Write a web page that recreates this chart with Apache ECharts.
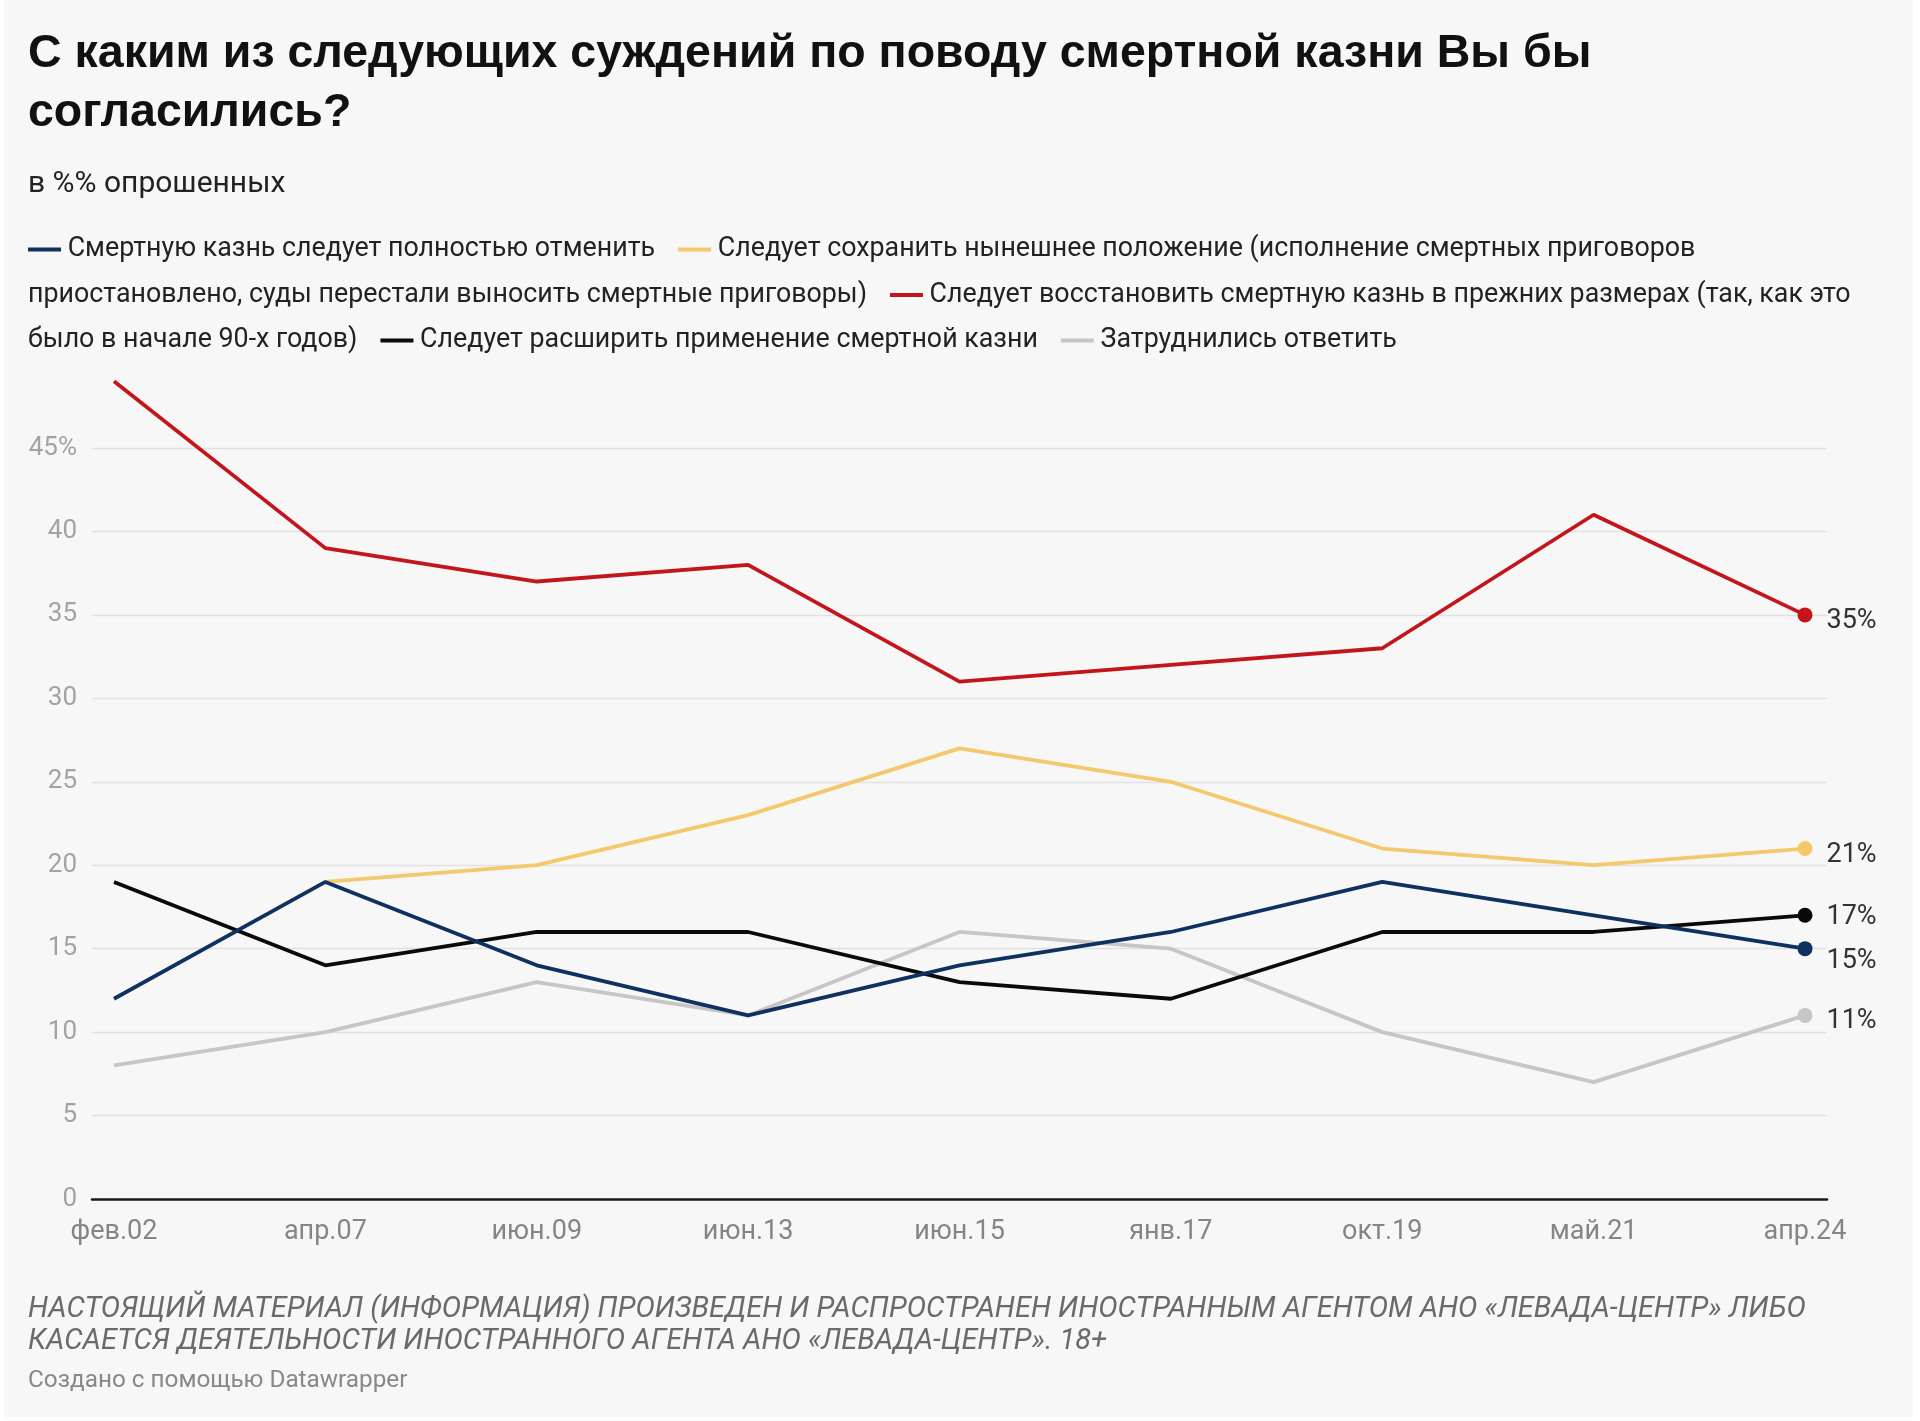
<!DOCTYPE html>
<html>
<head>
<meta charset="utf-8">
<script src="https://cdn.jsdelivr.net/npm/echarts@6/dist/echarts.min.js"></script>
<style>
html,body{margin:0;padding:0;background:#ffffff;}
#c{width:1920px;height:1421px;}
</style>
</head>
<body>
<div id="c"></div>
<script>
// ---- data ----
const categories = ['фев.02','апр.07','июн.09','июн.13','июн.15','янв.17','окт.19','май.21','апр.24'];
const abolish = [12, 19, 14, 11, 14, 16, 19, 17, 15];
const keep    = [null, 19, 20, 23, 27, 25, 21, 20, 21];
const restore = [49, 39, 37, 38, 31, 32, 33, 41, 35];
const expand  = [19, 14, 16, 16, 13, 12, 16, 16, 17];
const unsure  = [8, 10, 13, 11, 16, 15, 10, 7, 11];
const seriesNames = [
  'Смертную казнь следует полностью отменить',
  'Следует сохранить нынешнее положение (исполнение смертных приговоров приостановлено, суды перестали выносить смертные приговоры)',
  'Следует восстановить смертную казнь в прежних размерах (так, как это было в начале 90-х годов)',
  'Следует расширить применение смертной казни',
  'Затруднились ответить'
];
const yMin = 0, yMax = 45, yStep = 5;

// ---- styles ----
const colors = ['#0e3160', '#f3c96c', '#c3161c', '#0a0a0a', '#c6c6c6'];
const labelOffsets = [[0, 13], [0, 7], [0, 6], [0, 2], [0, 6]];
const FONT = 'Roboto, "Noto Sans", sans-serif';
const TITLE_FONT = '"Liberation Sans", Arial, sans-serif';

const allValues = [abolish, keep, restore, expand, unsure];
const last = categories.length - 1;

const series = allValues.map((vals, si) => ({
  name: seriesNames[si],
  type: 'line',
  xAxisIndex: 1,
  yAxisIndex: 1,
  clip: false,
  z: 10 - si,
  data: vals.map((v, i) => i === last ? {
    value: v,
    label: {
      show: true, position: 'right', distance: 14,
      formatter: '{c}%', color: '#333', fontSize: 27, fontFamily: FONT,
      offset: labelOffsets[si]
    }
  } : v),
  lineStyle: { color: colors[si], width: 3.8 },
  itemStyle: { color: colors[si] },
  symbol: 'circle',
  symbolSize: (v, p) => p.dataIndex === last ? 15 : 0,
  showAllSymbol: true,
  connectNulls: false,
  animation: false,
  emphasis: { disabled: true },
  silent: true
}));

// legend lines (flowing text like the original)
const mk = (c) => '{m' + c + '|}';
const legendLines = [
  mk(0) + '{t| Смертную казнь следует полностью отменить}{gap|}' + mk(1) + '{t| Следует сохранить нынешнее положение (исполнение смертных приговоров}',
  '{t|приостановлено, суды перестали выносить смертные приговоры)}{gap|}' + mk(2) + '{t| Следует восстановить смертную казнь в прежних размерах (так, как это}',
  '{t|было в начале 90-х годов)}{gap|}' + mk(3) + '{t| Следует расширить применение смертной казни}{gap|}' + mk(4) + '{t| Затруднились ответить}'
];
const legendRich = { t: { fontSize: 26.8, fontFamily: FONT, color: '#222' }, gap: { width: 23 } };
colors.forEach((c, i) => { legendRich['m' + i] = { width: 33, height: 4, backgroundColor: c }; });

const graphic = [
  { type: 'rect', z: -100, silent: true, shape: { x: 4, y: 0, width: 1909, height: 1417 }, style: { fill: '#f7f7f7' } },
  { type: 'text', left: 28, top: 31, style: { text: 'С каким из следующих суждений по поводу смертной казни Вы бы', font: 'bold 46.5px ' + TITLE_FONT, fill: '#111' } },
  { type: 'text', left: 28, top: 90, style: { text: 'согласились?', font: 'bold 46.5px ' + TITLE_FONT, fill: '#111' } },
  { type: 'text', left: 28, top: 169, style: { text: 'в %% опрошенных', font: '30px ' + FONT, fill: '#222' } }
];
legendLines.forEach((line, i) => {
  graphic.push({ type: 'text', left: 28, top: 236 + i * 45.5, style: { text: line, rich: legendRich, font: '26.8px ' + FONT, fill: '#222' } });
});
graphic.push(
  { type: 'text', left: 28, top: 1294, style: { text: 'НАСТОЯЩИЙ МАТЕРИАЛ (ИНФОРМАЦИЯ) ПРОИЗВЕДЕН И РАСПРОСТРАНЕН ИНОСТРАННЫМ АГЕНТОМ АНО «ЛЕВАДА-ЦЕНТР» ЛИБО\nКАСАЕТСЯ ДЕЯТЕЛЬНОСТИ ИНОСТРАННОГО АГЕНТА АНО «ЛЕВАДА-ЦЕНТР». 18+', font: 'italic 29px ' + FONT, fill: '#6a6a6a', lineHeight: 32 } },
  { type: 'text', left: 28, top: 1369, style: { text: 'Создано с помощью Datawrapper', font: '24.3px ' + FONT, fill: '#888' } }
);

const option = {
  backgroundColor: 'transparent',
  animation: false,
  grid: [
    { left: 92, right: 93, top: 448, bottom: 222 },
    { left: 114, right: 115, top: 448, bottom: 222 }
  ],
  xAxis: [
    { type: 'value', gridIndex: 0, min: 0, max: 1, axisLabel: { show: false }, axisTick: { show: false }, splitLine: { show: false },
      axisLine: { show: true, lineStyle: { color: '#1a1a1a', width: 2.5 } }, z: 5 },
    { type: 'category', gridIndex: 1, data: categories, boundaryGap: false,
      axisLine: { show: false }, axisTick: { show: false }, splitLine: { show: false },
      axisLabel: { color: '#858585', fontSize: 27, fontFamily: FONT, margin: 20, interval: 0 } }
  ],
  yAxis: [
    { type: 'value', gridIndex: 0, min: yMin, max: yMax, interval: yStep,
      axisLine: { show: false }, axisTick: { show: false },
      splitLine: { show: true, lineStyle: { color: '#e1e1e1', width: 1.3 } },
      axisLabel: { color: '#a3a3a3', fontSize: 26, fontFamily: FONT, margin: 15, padding: [5, 0, 0, 0],
        formatter: v => v === yMax ? v + '%' : String(v) } },
    { type: 'value', gridIndex: 1, min: yMin, max: yMax, interval: yStep, show: false, splitLine: { show: false } }
  ],
  graphic: graphic,
  series: series
};

const chart = echarts.init(document.getElementById('c'), null, { renderer: 'canvas' });
chart.setOption(option);
</script>
</body>
</html>
